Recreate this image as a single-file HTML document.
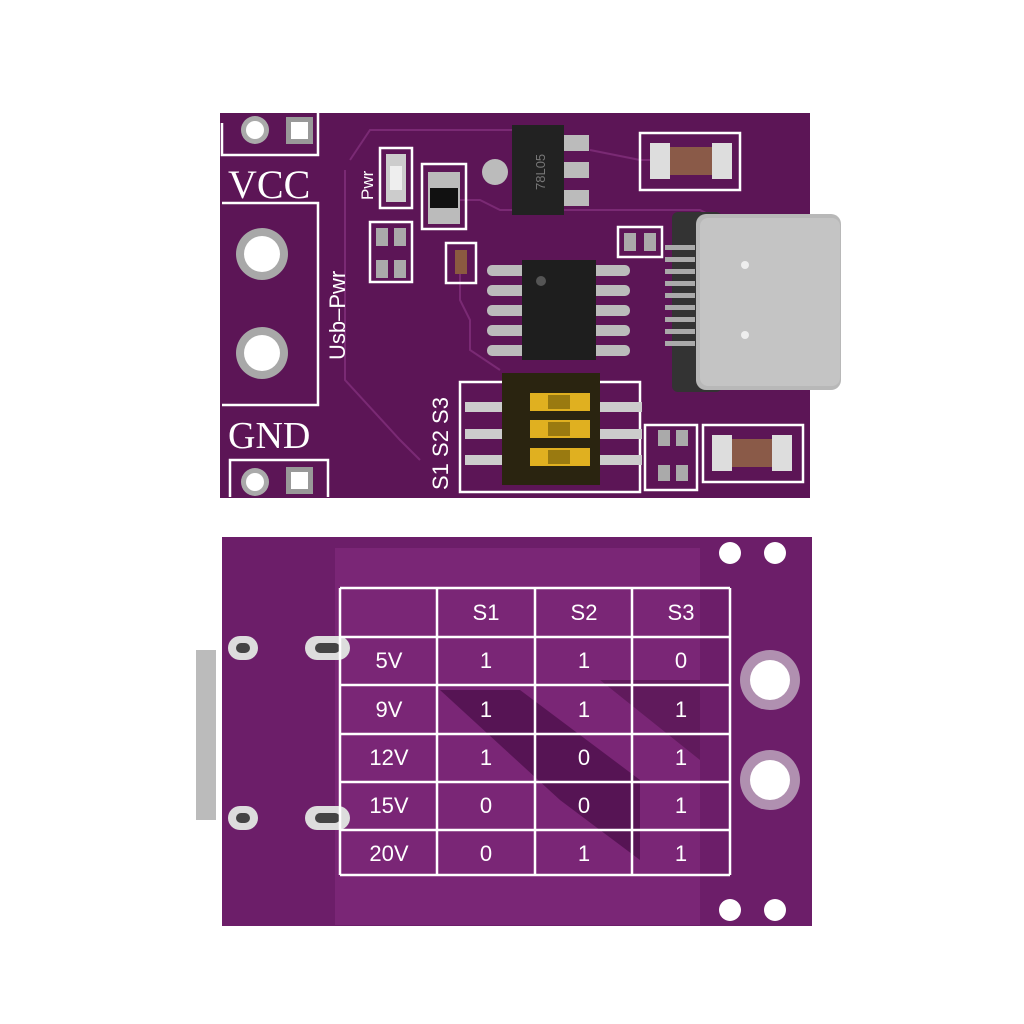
<!DOCTYPE html>
<html><head><meta charset="utf-8"><style>
html,body{margin:0;padding:0;background:#fff;width:1024px;height:1024px;overflow:hidden}
</style></head><body>
<svg width="1024" height="1024" viewBox="0 0 1024 1024" xmlns="http://www.w3.org/2000/svg" font-family="Liberation Sans, sans-serif">
<rect width="1024" height="1024" fill="#fff"/>
<!-- TOP BOARD -->
<rect x="220" y="113" width="590" height="385" fill="#5c1556"/>
<g fill="none" stroke="#7a2a74" stroke-width="2">
<path d="M350 160 L370 130 L520 130 L540 150 M345 170 L345 380 L400 440 L420 460"/>
<path d="M460 260 L460 300 L470 320 L470 350 L500 370"/>
<path d="M440 200 L480 200 L500 210 L700 210 L740 230"/>
<path d="M590 150 L640 160 L660 160"/>
</g>
<g fill="none" stroke="#fff" stroke-width="2.5">
<path d="M222 123 L222 155 L318 155 L318 113"/>
<path d="M222 203 L318 203 L318 405 L222 405"/>
<path d="M230 497 L230 460 L328 460 L328 497"/>
<path d="M380 148 L380 208 L412 208 L412 148 Z"/>
<rect x="422" y="164" width="44" height="65"/>
<rect x="370" y="222" width="42" height="60"/>
<rect x="446" y="243" width="30" height="40"/>
<rect x="618" y="227" width="44" height="30"/>
<rect x="640" y="133" width="100" height="57"/>
<rect x="645" y="425" width="52" height="65"/>
<rect x="703" y="425" width="100" height="57"/>
<rect x="460" y="382" width="180" height="110"/>
</g>
<circle cx="255" cy="130" r="14" fill="#aaa"/><circle cx="255" cy="130" r="9" fill="#fff"/>
<rect x="286" y="117" width="27" height="27" fill="#999"/><rect x="291" y="122" width="17" height="17" fill="#fff"/>
<circle cx="255" cy="482" r="14" fill="#aaa"/><circle cx="255" cy="482" r="9" fill="#fff"/>
<rect x="286" y="467" width="27" height="27" fill="#999"/><rect x="291" y="472" width="17" height="17" fill="#fff"/>
<circle cx="262" cy="254" r="26" fill="#a8a8a8"/><circle cx="262" cy="254" r="18" fill="#fff"/>
<circle cx="262" cy="353" r="26" fill="#a8a8a8"/><circle cx="262" cy="353" r="18" fill="#fff"/>
<text x="228" y="198" font-size="40" fill="#fff" style="font-family:'Liberation Serif',serif">VCC</text>
<text x="228" y="448" font-size="38" fill="#fff" style="font-family:'Liberation Serif',serif">GND</text>
<text transform="translate(345,360) rotate(-90)" font-size="22" fill="#fff">Usb–Pwr</text>
<text transform="translate(373,200) rotate(-90)" font-size="17" fill="#fff">Pwr</text>
<text transform="translate(448,490) rotate(-90)" font-size="22" fill="#fff">S1 S2 S3</text>
<rect x="386" y="154" width="20" height="48" fill="#ccc"/><rect x="390" y="166" width="12" height="24" fill="#eee"/>
<rect x="428" y="172" width="32" height="52" fill="#bbb"/><rect x="430" y="188" width="28" height="20" fill="#111"/>
<rect x="376" y="228" width="12" height="18" fill="#aaa"/><rect x="394" y="228" width="12" height="18" fill="#aaa"/>
<rect x="376" y="260" width="12" height="18" fill="#aaa"/><rect x="394" y="260" width="12" height="18" fill="#aaa"/>
<rect x="455" y="250" width="12" height="24" fill="#8b5a40"/>
<rect x="512" y="125" width="52" height="90" fill="#222"/>
<rect x="564" y="135" width="25" height="16" fill="#bbb"/><rect x="564" y="162" width="25" height="16" fill="#bbb"/><rect x="564" y="190" width="25" height="16" fill="#bbb"/>
<circle cx="495" cy="172" r="13" fill="#bbb"/>
<text transform="translate(545,190) rotate(-90)" font-size="13" fill="#777">78L05</text>
<rect x="650" y="143" width="20" height="36" fill="#ddd"/><rect x="670" y="147" width="42" height="28" fill="#8a5a48"/><rect x="712" y="143" width="20" height="36" fill="#ddd"/>
<rect x="712" y="435" width="20" height="36" fill="#ddd"/><rect x="732" y="439" width="40" height="28" fill="#8a5a48"/><rect x="772" y="435" width="20" height="36" fill="#ddd"/>
<rect x="624" y="233" width="12" height="18" fill="#aaa"/><rect x="644" y="233" width="12" height="18" fill="#aaa"/>
<rect x="658" y="430" width="12" height="16" fill="#aaa"/><rect x="676" y="430" width="12" height="16" fill="#aaa"/>
<rect x="658" y="465" width="12" height="16" fill="#aaa"/><rect x="676" y="465" width="12" height="16" fill="#aaa"/>
<g fill="#bbb"><rect x="487" y="265" width="40" height="11" rx="5"/><rect x="487" y="285" width="40" height="11" rx="5"/><rect x="487" y="305" width="40" height="11" rx="5"/><rect x="487" y="325" width="40" height="11" rx="5"/><rect x="487" y="345" width="40" height="11" rx="5"/>
<rect x="590" y="265" width="40" height="11" rx="5"/><rect x="590" y="285" width="40" height="11" rx="5"/><rect x="590" y="305" width="40" height="11" rx="5"/><rect x="590" y="325" width="40" height="11" rx="5"/><rect x="590" y="345" width="40" height="11" rx="5"/></g>
<rect x="522" y="260" width="74" height="100" fill="#1e1e1e"/>
<circle cx="541" cy="281" r="5" fill="#555"/>
<g fill="#ccc"><rect x="465" y="402" width="40" height="10"/><rect x="465" y="429" width="40" height="10"/><rect x="465" y="455" width="40" height="10"/>
<rect x="600" y="402" width="42" height="10"/><rect x="600" y="429" width="42" height="10"/><rect x="600" y="455" width="42" height="10"/></g>
<rect x="502" y="373" width="98" height="112" fill="#2a2410"/>
<g fill="#e0b020"><rect x="530" y="393" width="60" height="18"/><rect x="530" y="420" width="60" height="18"/><rect x="530" y="448" width="60" height="18"/></g>
<g fill="#9a7a10"><rect x="548" y="395" width="22" height="14"/><rect x="548" y="422" width="22" height="14"/><rect x="548" y="450" width="22" height="14"/></g>
<rect x="672" y="212" width="50" height="180" fill="#333" rx="6"/>
<g fill="#aaa"><rect x="665" y="245" width="30" height="5"/><rect x="665" y="257" width="30" height="5"/><rect x="665" y="269" width="30" height="5"/><rect x="665" y="281" width="30" height="5"/><rect x="665" y="293" width="30" height="5"/><rect x="665" y="305" width="30" height="5"/><rect x="665" y="317" width="30" height="5"/><rect x="665" y="329" width="30" height="5"/><rect x="665" y="341" width="30" height="5"/></g>
<rect x="696" y="214" width="145" height="176" rx="10" fill="#b8b8b8"/>
<rect x="700" y="218" width="140" height="168" rx="8" fill="#c4c4c4"/>
<circle cx="745" cy="265" r="4" fill="#eee"/><circle cx="745" cy="335" r="4" fill="#eee"/>

<!-- BOTTOM BOARD -->
<rect x="222" y="537" width="590" height="389" fill="#6c1e69"/>
<path d="M335 548 L700 548 L700 925 L335 925 Z" fill="#7a2676"/>
<path d="M440 690 L520 690 L640 780 L640 860 L560 800 Z" fill="#561454"/>
<path d="M600 680 L700 680 L700 760 Z" fill="#601a5c"/>
<circle cx="730" cy="553" r="11" fill="#fff"/><circle cx="775" cy="553" r="11" fill="#fff"/>
<circle cx="730" cy="910" r="11" fill="#fff"/><circle cx="775" cy="910" r="11" fill="#fff"/>
<circle cx="770" cy="680" r="30" fill="#b090b0"/><circle cx="770" cy="680" r="20" fill="#fff"/>
<circle cx="770" cy="780" r="30" fill="#b090b0"/><circle cx="770" cy="780" r="20" fill="#fff"/>
<rect x="196" y="650" width="20" height="170" fill="#bbb"/>
<rect x="228" y="636" width="30" height="24" rx="12" fill="#ddd"/><rect x="236" y="643" width="14" height="10" rx="5" fill="#444"/>
<rect x="305" y="636" width="45" height="24" rx="12" fill="#ddd"/><rect x="315" y="643" width="25" height="10" rx="5" fill="#444"/>
<rect x="228" y="806" width="30" height="24" rx="12" fill="#ddd"/><rect x="236" y="813" width="14" height="10" rx="5" fill="#444"/>
<rect x="305" y="806" width="45" height="24" rx="12" fill="#ddd"/><rect x="315" y="813" width="25" height="10" rx="5" fill="#444"/>
<g stroke="#fff" stroke-width="2.5" fill="none">
<path d="M340 588 L730 588 M340 637 L730 637 M340 685 L730 685 M340 734 L730 734 M340 782 L730 782 M340 830 L730 830 M340 875 L730 875"/>
<path d="M340 588 L340 875 M437 588 L437 875 M535 588 L535 875 M632 588 L632 875 M730 588 L730 875"/>
</g>
<g fill="#fff" font-size="22" text-anchor="middle">
<text x="486" y="620">S1</text><text x="584" y="620">S2</text><text x="681" y="620">S3</text>
<text x="389" y="668">5V</text><text x="486" y="668">1</text><text x="584" y="668">1</text><text x="681" y="668">0</text>
<text x="389" y="717">9V</text><text x="486" y="717">1</text><text x="584" y="717">1</text><text x="681" y="717">1</text>
<text x="389" y="765">12V</text><text x="486" y="765">1</text><text x="584" y="765">0</text><text x="681" y="765">1</text>
<text x="389" y="813">15V</text><text x="486" y="813">0</text><text x="584" y="813">0</text><text x="681" y="813">1</text>
<text x="389" y="861">20V</text><text x="486" y="861">0</text><text x="584" y="861">1</text><text x="681" y="861">1</text>
</g>
</svg>
</body></html>
